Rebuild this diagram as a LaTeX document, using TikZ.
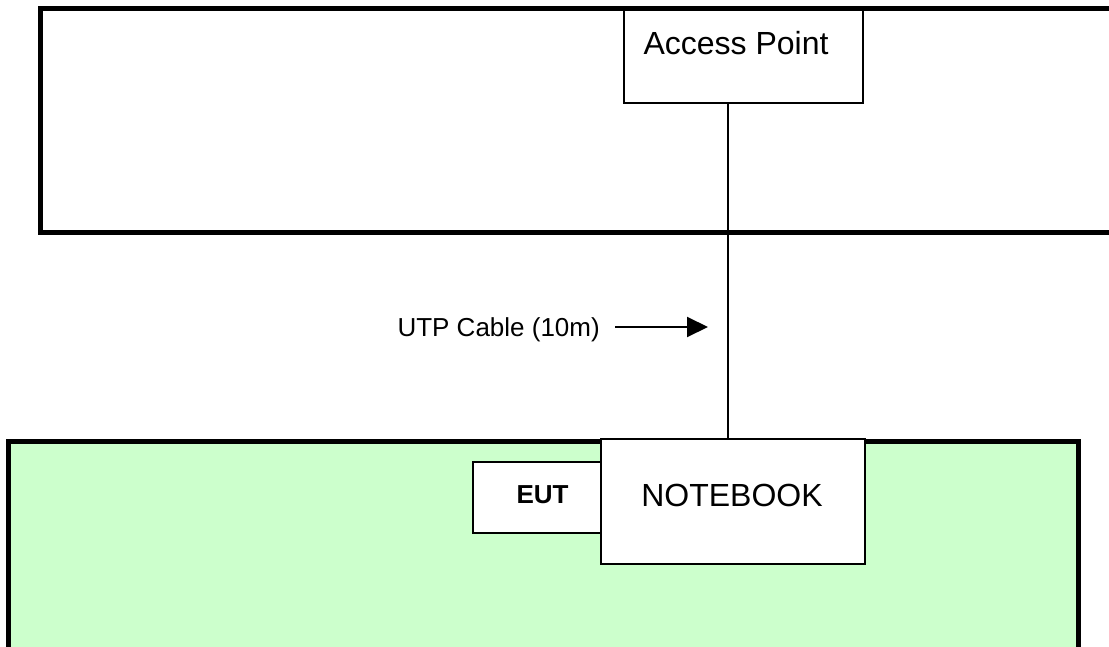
\documentclass[tikz,border=0pt]{standalone}
\usepackage{fontspec}
\setmainfont{Liberation Sans}
\usetikzlibrary{arrows.meta,positioning}
\definecolor{paleGreen}{HTML}{CCFFCC}
\begin{document}
\begin{tikzpicture}[x=1pt,y=-1pt,
  thickframe/.style={draw=black,line width=5pt},
  whitebox/.style={draw=black,fill=white,line width=2pt,rectangle,inner sep=0pt,anchor=north west},
  conn/.style={draw=black,line width=2pt},
  bigtxt/.style={font=\fontsize{32}{36}\selectfont,anchor=base,inner sep=0pt},
  midtxt/.style={font=\fontsize{26}{30}\selectfont,anchor=base,inner sep=0pt},
  boldtxt/.style={font=\fontsize{26}{30}\selectfont\bfseries,anchor=base,inner sep=0pt}]
\clip (0,0) rectangle (1109,647);
\fill[white] (0,0) rectangle (1109,647);
% top room
\draw[thickframe] (1120,8.7) -- (40.5,8.7) -- (40.5,233) -- (1120,233);
% bottom green table
\fill[paleGreen] (8.3,441) rectangle (1078.7,660);
\draw[thickframe] (8.3,660) -- (8.3,441) -- (1078.7,441) -- (1078.7,660);
% access point
\node[whitebox,minimum width=239pt,minimum height=93pt] (ap) at (623,9) {};
\node[bigtxt] (aptxt) at (736,55) {Access Point};
% EUT and notebook
\node[whitebox,minimum width=128pt,minimum height=71pt] (eut) at (472,461) {};
\node[boldtxt] (euttxt) at (542.5,503) {EUT};
\node[whitebox,minimum width=264pt,minimum height=125.5pt] (nb) at (600,437.7) {};
\node[bigtxt] (nbtxt) at (732,506) {NOTEBOOK};
% cable
\coordinate (cx) at (728,0);
\draw[conn] (ap.south -| cx) -- (nb.north -| cx);
% label
\node[midtxt,anchor=base east] (utp) at (600,336) {UTP Cable (10m)};
\coordinate (tip) at (708,327);
\draw[line width=2pt,-{Triangle[length=21pt,width=20pt]}] (utp.east |- tip) ++(15,0) coordinate (tail) -- (tip);
\end{tikzpicture}
\end{document}
